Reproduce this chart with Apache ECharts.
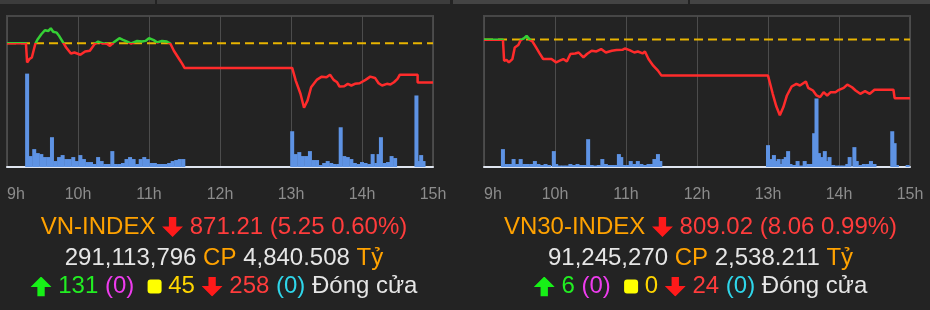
<!DOCTYPE html>
<html><head><meta charset="utf-8">
<script src="https://cdn.jsdelivr.net/npm/echarts@6/dist/echarts.min.js"></script>
<style>html,body{margin:0;padding:0;background:#232323}#c{width:930px;height:310px}</style>
</head><body><div id="c"></div>
<script>
// ---------- DATA ----------
const hourLabels = ['9h','10h','11h','12h','13h','14h','15h'];

const vnRef = 876.46;
const vnTimes = ['09:00','09:16','09:17','09:19','09:21','09:24','09:26','09:29','09:32','09:35','09:37','09:39','09:42','09:44','09:48','09:50','09:54','09:57','10:02','10:06','10:10','10:14','10:17','10:21','10:24','10:27','10:30','10:35','10:38','10:42','10:45','10:50','10:54','10:57','11:00','11:04','11:07','11:11','11:15','11:18','11:21','11:26','11:28','11:30','13:01','13:04','13:08','13:11','13:14','13:17','13:22','13:26','13:30','13:33','13:36','13:39','13:41','13:45','13:48','13:51','13:54','13:58','14:03','14:07','14:11','14:14','14:17','14:21','14:24','14:27','14:30','14:32','14:47','14:47','15:00'];
const vnPrices = [876.45,876.45,873.89,874.34,874.55,876.41,876.99,877.65,878.18,878.09,878.45,877.99,877.86,877.43,876.40,875.88,875.08,875.21,874.91,875.35,875.44,876.33,876.67,876.41,876.41,876.10,876.54,877.12,876.90,876.63,876.41,876.76,876.67,876.76,877.12,876.86,876.54,876.76,876.67,876.41,875.44,874.21,873.72,873.15,873.15,871.47,869.71,867.85,868.82,870.58,871.60,871.99,871.90,872.26,871.56,871.24,870.67,870.71,871.03,870.81,871.03,871.11,871.56,871.99,871.82,871.11,870.81,871.03,870.94,871.24,871.69,872.26,872.26,871.21,871.21];
const vnVolTimes = ['09:17','09:20','09:23','09:26','09:29','09:32','09:35','09:38','09:41','09:44','09:47','09:50','09:53','09:56','09:59','10:02','10:05','10:08','10:11','10:14','10:17','10:20','10:23','10:26','10:29','10:32','10:35','10:38','10:41','10:44','10:47','10:50','10:53','10:56','10:59','11:02','11:05','11:08','11:11','11:14','11:17','11:20','11:23','11:26','11:29','13:01','13:04','13:07','13:10','13:13','13:16','13:19','13:22','13:25','13:28','13:31','13:34','13:37','13:40','13:42','13:45','13:48','13:51','13:54','13:57','14:00','14:03','14:06','14:09','14:12','14:14','14:16','14:19','14:22','14:25','14:28','14:46','14:48','14:50','14:52'];
const vnVols = [940,110,180,140,130,100,100,300,60,100,120,80,80,100,60,120,80,50,50,30,100,60,30,30,160,30,30,40,80,100,80,30,80,100,80,40,40,30,30,30,40,60,70,80,80,360,130,150,110,110,160,70,70,20,40,60,40,30,30,400,110,100,80,40,30,50,40,30,130,40,130,300,40,50,110,90,720,60,120,60];

const vn30Ref = 817.08;
const vn30Times = ['09:00','09:16','09:17','09:19','09:21','09:24','09:26','09:29','09:31','09:34','09:36','09:39','09:41','09:44','09:47','09:50','09:53','09:57','10:01','10:04','10:07','10:10','10:13','10:17','10:20','10:24','10:27','10:31','10:35','10:39','10:43','10:48','10:52','10:57','10:59','11:03','11:07','11:10','11:14','11:16','11:19','11:23','11:27','11:30','13:00','13:01','13:04','13:07','13:10','13:13','13:16','13:20','13:24','13:27','13:32','13:34','13:38','13:41','13:44','13:47','13:50','13:53','13:57','14:00','14:04','14:07','14:11','14:14','14:18','14:22','14:26','14:30','14:46','14:47','15:00'];
const vn30Prices = [817.07,817.07,814.17,814.27,813.94,814.40,815.99,816.32,817.00,817.27,817.59,817.00,816.81,815.99,815.17,814.40,814.40,814.40,813.94,814.17,814.40,814.07,815.09,815.17,815.30,814.62,815.09,815.54,815.44,815.77,815.30,815.54,815.63,815.67,815.85,815.63,815.30,815.44,815.17,815.44,814.40,813.49,812.81,812.12,812.12,811.98,809.62,807.90,806.67,807.79,809.39,810.62,810.99,810.76,811.31,810.44,810.07,809.39,809.16,809.84,809.39,809.84,809.84,810.17,810.44,810.89,810.52,810.07,809.62,809.98,809.62,810.17,810.17,809.02,809.02];
const vn30VolTimes = ['09:16','09:19','09:22','09:25','09:28','09:31','09:34','09:37','09:40','09:43','09:46','09:49','09:52','09:55','09:59','10:01','10:04','10:07','10:10','10:13','10:16','10:19','10:22','10:25','10:28','10:31','10:34','10:37','10:40','10:43','10:46','10:49','10:52','10:54','10:56','10:58','11:01','11:04','11:07','11:10','11:13','11:16','11:19','11:22','11:24','11:27','11:29','13:00','13:03','13:05','13:07','13:09','13:11','13:13','13:15','13:17','13:19','13:22','13:25','13:28','13:31','13:34','13:37','13:39','13:41','13:43','13:45','13:48','13:50','13:52','13:55','13:58','14:01','14:04','14:07','14:09','14:13','14:15','14:18','14:21','14:24','14:27','14:30','14:45','14:47','14:49','14:58'];
const vn30Vols = [180,30,30,80,30,80,30,30,30,60,30,20,30,20,160,30,15,15,15,30,20,30,20,20,280,20,15,20,80,30,20,20,20,130,100,20,20,60,30,60,30,20,30,30,80,130,60,220,80,120,60,80,30,80,100,160,30,20,60,15,60,30,30,340,690,140,100,160,60,100,20,15,15,15,30,100,200,60,20,30,30,60,30,360,240,20,20];

const vnText = ['VN-INDEX','871.21 (5.25 0.60%)','291,113,796','4,840.508','131','(0)','45','258','(0)','Đóng cửa'];
const vn30Text = ['VN30-INDEX','809.02 (8.06 0.99%)','91,245,270','2,538.211','6','(0)','0','24','(0)','Đóng cửa'];

// ---------- HELPERS ----------
const toMin = t => { const [h,m] = t.split(':').map(Number); return (h-9)*60+m; };
const pairs = (ts, vs) => ts.map((t,i)=>[toMin(t), vs[i]]);
const FONT = '"Liberation Sans", Arial, sans-serif';
const svg = s => 'data:image/svg+xml;charset=utf-8,' + encodeURIComponent(s);
const dnImg = svg("<svg xmlns='http://www.w3.org/2000/svg' width='20' height='20' viewBox='0 0 20 20'><path d='M6.5 0H13.5V9.5H20L10 20L0 9.5H6.5Z' fill='#ff1a1a'/></svg>");
const upImg = svg("<svg xmlns='http://www.w3.org/2000/svg' width='20' height='20' viewBox='0 0 20 20'><path d='M6.5 20H13.5V10.5H20L10 0L0 10.5H6.5Z' fill='#17f017'/></svg>");

const rich = {
  o:{fill:'#ffa200', fontSize:24, fontFamily:FONT},
  r:{fill:'#ff3c3c', fontSize:24, fontFamily:FONT},
  w:{fill:'#e6e6e6', fontSize:24, fontFamily:FONT},
  g:{fill:'#22ee22', fontSize:24, fontFamily:FONT},
  m:{fill:'#ee3cee', fontSize:24, fontFamily:FONT},
  y:{fill:'#ffd500', fontSize:24, fontFamily:FONT},
  c:{fill:'#2fd6ea', fontSize:24, fontFamily:FONT},
  dn:{width:21, height:20, backgroundColor:{image:dnImg}},
  up:{width:21, height:20, backgroundColor:{image:upImg}},
  sq:{width:14, height:14, backgroundColor:'#ffff00', borderRadius:3}
};
function textBlock(cx, T){
  const base = {align:'center', verticalAlign:'middle', font:'24px '+FONT, fill:'#e6e6e6', rich};
  return [
    {type:'text', x:cx, y:227, style:Object.assign({text:`{o|${T[0]}} {dn| } {r|${T[1]}}`}, base)},
    {type:'text', x:cx, y:258, style:Object.assign({text:`{w|${T[2]}} {o|CP} {w|${T[3]}} {o|Tỷ}`}, base)},
    {type:'text', x:cx, y:286.5, style:Object.assign({text:`{up| } {g|${T[4]}} {m|${T[5]}}  {sq| } {y|${T[6]}} {dn| } {r|${T[7]}} {c|${T[8]}} {w|${T[9]}}`}, base)}
  ];
}
function xAx(gi){
  return {type:'value', gridIndex:gi, min:0, max:360, interval:60,
    axisLine:{show:true, onZero:false, lineStyle:{color:'#dfe5ef', width:2}},
    axisTick:{show:false},
    axisLabel:{color:'#8c8c8c', fontSize:16, fontFamily:FONT, margin:20,
      formatter:v=>hourLabels[Math.round(v/60)], alignMinLabel:'left', alignMaxLabel:'center'},
    splitLine:{show:true, lineStyle:{color:'#4c4c4c', width:1}}};
}
const volMax = 1520;
function yPrice(gi,min,max){return {type:'value', gridIndex:gi, min, max, show:false, splitLine:{show:false}};}
function yVol(gi){return {type:'value', gridIndex:gi, min:0, max:volMax, show:false, splitLine:{show:false}};}

const refLine = (xi, yi, ref) => ({type:'line', xAxisIndex:xi, yAxisIndex:yi, data:[[0,ref],[360,ref]],
  symbol:'none', silent:true, lineStyle:{color:'#e8b400', width:2, type:[9,5]}, z:3});
const priceLine = (xi, yi, d) => ({type:'line', xAxisIndex:xi, yAxisIndex:yi, data:d, symbol:'none',
  lineStyle:{width:2.5}, z:4});
const volBars = (xi, yi, d) => ({type:'bar', xAxisIndex:xi, yAxisIndex:yi, data:d, barWidth:4,
  itemStyle:{color:'#5e93e4'}, z:2});

const chart = echarts.init(document.getElementById('c'), null, {renderer:'canvas'});
chart.setOption({
  backgroundColor:'#232323',
  animation:false,
  grid:[
    {left:7, right:497, top:16, bottom:143, show:true, borderColor:'#474747', borderWidth:2},
    {left:484, right:20, top:16, bottom:143, show:true, borderColor:'#474747', borderWidth:2}
  ],
  xAxis:[xAx(0), xAx(1)],
  yAxis:[yPrice(0,859.94,880.08), yVol(0), yPrice(1,799.55,820.32), yVol(1)],
  visualMap:[
    {type:'piecewise', show:false, seriesIndex:2, dimension:1,
      pieces:[{gt:vnRef, lte:vnRef+100, color:'#35d035'},{gt:vnRef-100, lte:vnRef, color:'#ff2b2b'}]},
    {type:'piecewise', show:false, seriesIndex:5, dimension:1,
      pieces:[{gt:vn30Ref, lte:vn30Ref+100, color:'#35d035'},{gt:vn30Ref-100, lte:vn30Ref, color:'#ff2b2b'}]}
  ],
  series:[
    volBars(0,1,pairs(vnVolTimes, vnVols)),
    refLine(0,0,vnRef),
    priceLine(0,0,pairs(vnTimes, vnPrices)),
    volBars(1,3,pairs(vn30VolTimes, vn30Vols)),
    refLine(1,2,vn30Ref),
    priceLine(1,2,pairs(vn30Times, vn30Prices))
  ],
  graphic:[
    {type:'rect', shape:{x:0,y:0,width:155,height:4}, style:{fill:'#3c3c3c'}},
    {type:'rect', shape:{x:157,y:0,width:293,height:4}, style:{fill:'#3c3c3c'}},
    {type:'rect', shape:{x:453,y:0,width:235,height:4}, style:{fill:'#444444'}},
    {type:'rect', shape:{x:690,y:0,width:240,height:4}, style:{fill:'#444444'}},
    ...textBlock(224, vnText),
    ...textBlock(700.5, vn30Text)
  ]
});
</script></body></html>
